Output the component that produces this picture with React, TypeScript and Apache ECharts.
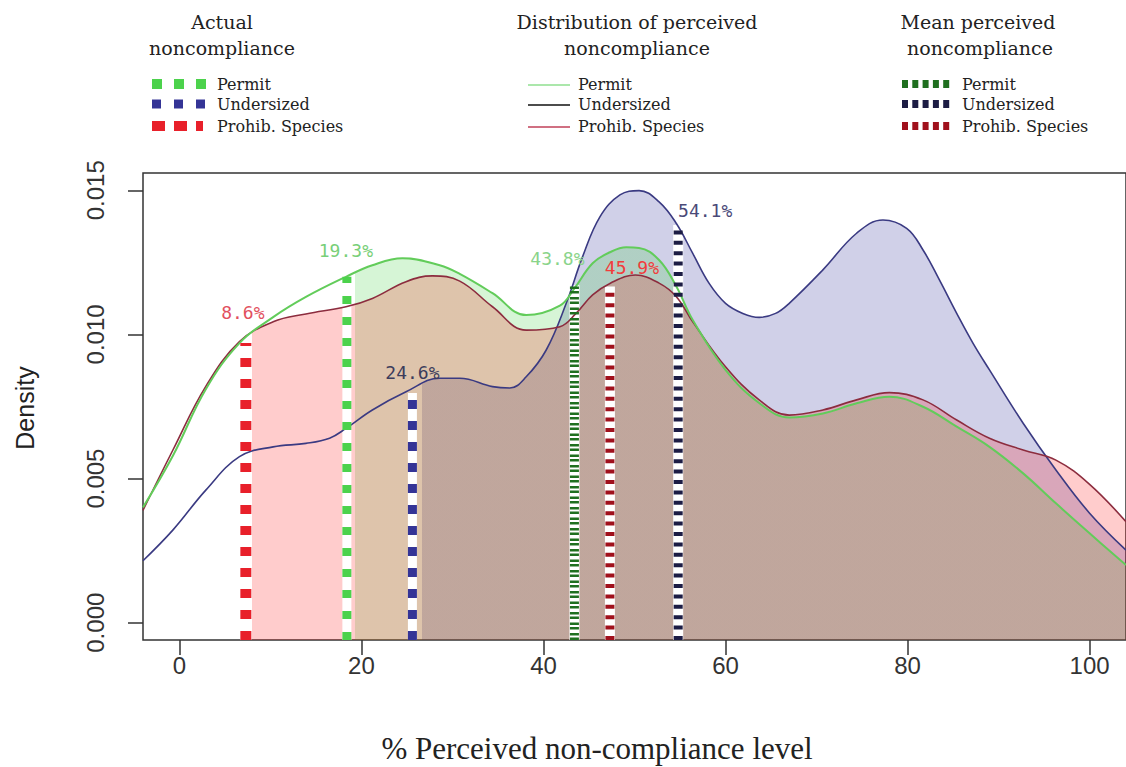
import React, { useEffect, useRef } from "react";
import * as echarts from "echarts";

// ---------- data ----------
const seriesNames = ["Permit", "Undersized", "Prohib. Species"];

const permitCurve: [number, number][] = [
  [-4, 0.004], [-0.7, 0.0058], [2.9, 0.0081], [6.6, 0.0097], [10.3, 0.0106], [13.9, 0.0113],
  [18.3, 0.012], [21.2, 0.0124], [24.5, 0.01264], [28.6, 0.0124], [30.8, 0.0121], [34.4, 0.01143],
  [38.1, 0.01067], [41.8, 0.011], [43.4, 0.0116], [45.4, 0.01247], [47.3, 0.01285], [49.1, 0.01302],
  [50.5, 0.013], [52.7, 0.01258], [54.6, 0.01166], [56.4, 0.0105], [60, 0.00877], [63.7, 0.00762],
  [67, 0.00712], [70.7, 0.00726], [74.4, 0.00761], [78, 0.00784], [81.7, 0.00749], [85.4, 0.0068],
  [89, 0.0061], [92.7, 0.00518], [96.3, 0.00414], [100, 0.0031], [104, 0.002],
];

const undersizedCurve: [number, number][] = [
  [-4, 0.00215], [-0.7, 0.00322], [2.9, 0.0046], [6.6, 0.00576], [10.3, 0.0061], [13.9, 0.00622],
  [16.5, 0.0064], [18.3, 0.00674], [21.2, 0.00738], [24.9, 0.00801], [28.6, 0.00848], [30.8, 0.00848],
  [34.4, 0.00819], [36.3, 0.00814], [38.1, 0.00853], [40.3, 0.00946], [42.5, 0.01108], [44.3, 0.0127],
  [46.2, 0.01408], [48.4, 0.01484], [50.5, 0.01499], [52.7, 0.0146], [54.6, 0.01385], [56.4, 0.01281],
  [58.2, 0.01177], [60, 0.01108], [61.9, 0.01073], [63.7, 0.01059], [65.5, 0.01073], [67, 0.01108],
  [70.7, 0.01224], [74.4, 0.01351], [77.3, 0.01397], [79.9, 0.01368], [81.7, 0.01293], [83.5, 0.01189],
  [85.4, 0.01073], [87.2, 0.00969], [89, 0.00877], [92.7, 0.00692], [96.3, 0.0053], [100, 0.0038],
  [104, 0.00252],
];

const prohibCurve: [number, number][] = [
  [-4, 0.0039], [-0.7, 0.006], [2.9, 0.0082], [6.6, 0.00975], [10.3, 0.01044], [13.9, 0.01071],
  [18.3, 0.01096], [21.2, 0.01125], [24.9, 0.01183], [27.8, 0.01203], [30.8, 0.01185], [34.4, 0.01096],
  [38.1, 0.01015], [41.8, 0.01027], [43.6, 0.01074], [45.4, 0.01137], [47.3, 0.01177], [50.1, 0.01206],
  [52.7, 0.01178], [54.6, 0.01131], [56.4, 0.01044], [60, 0.00888], [63.7, 0.00773], [67, 0.0072],
  [70.7, 0.00738], [74.4, 0.00773], [78, 0.00798], [81.7, 0.00773], [85.4, 0.00703], [89, 0.0064],
  [92.7, 0.00599], [96.3, 0.00564], [100, 0.0048], [104, 0.0035],
];

// actual noncompliance (Permit, Undersized, Prohib. Species)
const actualX = [18.4, 25.6, 7.3];
const actualTop = [0.012, 0.00797, 0.0097];
const actualLabels = ["19.3%", "24.6%", "8.6%"];
const fillStartX = [19.3, 26.6, 8.0];

// mean perceived noncompliance
const meanX = [43.4, 54.8, 47.3];
const meanTop = [0.01171, 0.0138, 0.01166];
const meanLabels = ["43.8%", "54.1%", "45.9%"];

const xTicks = [0, 20, 40, 60, 80, 100];
const yTicks = [0, 0.005, 0.01, 0.015];

// ---------- styling ----------
const X_MIN = -4;
const X_MAX = 104;
const Y_MIN = -0.0006;
const Y_MAX = 0.0156;

const curveColors = ["#62cc5a", "#3a3a82", "#8c2c3e"];
const fillColors = ["rgba(50,205,50,0.2)", "rgba(20,20,140,0.2)", "rgba(255,0,0,0.2)"];
const actualColors = ["#4cd24c", "#343496", "#e8202a"];
const actualWidths = [9, 9, 11];
const actualDash = [[8, 13], [9, 12], [9, 12]];
const actualLabelColors = ["#78cf78", "#3c3c5c", "#e2505e"];
const actualLabelOffsets = [[-1, -26], [0, -20], [-3, -31]];
const meanColors = ["#1f6f1f", "#1c1c44", "#a0101c"];
const meanDash = [[2.5, 2, 2.5, 3.5], [4, 6.4], [4, 6.4]];
const meanLabelColors = ["#8ad48a", "#4a4a78", "#f23c3c"];
const meanLabelOffsets = [[-17, -27], [27, -14], [22, -19]];

const curves = [permitCurve, undersizedCurve, prohibCurve];
const areaOrder = [1, 0, 2];

const serif = '"DejaVu Serif", serif';
const labelFont = '"DejaVu Sans Mono", monospace';

function vLine(x: number, top: number, label: string, lcolor: string, offset: number[], color: string, width: number, dash: number[]) {
  return {
    type: "line",
    data: [
      { value: [x, Y_MIN] },
      {
        value: [x, top],
        label: {
          show: true,
          position: "inside",
          formatter: label,
          offset,
          color: lcolor,
          fontFamily: labelFont,
          fontSize: 18,
        },
      },
    ],
    symbol: "circle",
    symbolSize: 0,
    showSymbol: true,
    lineStyle: { color, width, type: dash },
    z: 4,
    silent: true,
  };
}

function buildOption(): any {
  const series: any[] = [];

  // filled areas (start at actual value)
  areaOrder.forEach((k) => {
    series.push({
      type: "line",
      name: seriesNames[k] + " area",
      data: curves[k],
      smooth: 0.4,
      symbol: "none",
      lineStyle: { width: 0 },
      areaStyle: { opacity: 1, origin: "start" },
      z: 1,
      silent: true,
    });
  });

  const visualMap = areaOrder.map((k, i) => ({
    type: "piecewise",
    show: false,
    seriesIndex: i,
    dimension: 0,
    pieces: [
      { lt: fillStartX[k], color: "rgba(255,255,255,0)" },
      { gte: fillStartX[k], lt: 500, color: fillColors[k] },
      { gte: 500, color: fillColors[k] },
    ],
  }));

  // white backing under vertical lines
  [0, 1, 2].forEach((k) => {
    series.push({
      type: "line",
      data: [[actualX[k], Y_MIN], [actualX[k], actualTop[k]]],
      symbol: "none",
      lineStyle: { color: "#ffffff", width: actualWidths[k] },
      z: 2,
      silent: true,
    });
    series.push({
      type: "line",
      data: [[meanX[k], Y_MIN], [meanX[k], meanTop[k]]],
      symbol: "none",
      lineStyle: { color: "#ffffff", width: 10 },
      z: 2,
      silent: true,
    });
  });

  // density curves
  [1, 2, 0].forEach((k) => {
    series.push({
      type: "line",
      name: seriesNames[k],
      data: curves[k],
      smooth: 0.4,
      symbol: "none",
      lineStyle: { color: curveColors[k], width: k === 0 ? 2 : 1.6 },
      z: 3,
      silent: true,
    });
  });

  [0, 1, 2].forEach((k) => {
    series.push(
      vLine(actualX[k], actualTop[k], actualLabels[k], actualLabelColors[k], actualLabelOffsets[k],
        actualColors[k], actualWidths[k], actualDash[k])
    );
  });
  [0, 1, 2].forEach((k) => {
    series.push(
      vLine(meanX[k], meanTop[k], meanLabels[k], meanLabelColors[k], meanLabelOffsets[k],
        meanColors[k], 9, meanDash[k])
    );
  });

  // ---------- legends (graphic) ----------
  const textEl = (text: string, x: number, y: number, size: number, align = "center", family = serif) => ({
    type: "text",
    x,
    y,
    silent: true,
    style: {
      text,
      fill: "#222",
      font: `${size}px ${family}`,
      align,
      verticalAlign: "middle",
      textAlign: align,
      textVerticalAlign: "middle",
    },
  });

  const itemY = [84, 104, 126];
  const graphic: any[] = [];

  // legend 1: actual
  graphic.push(textEl("Actual", 222, 22, 19));
  graphic.push(textEl("noncompliance", 222, 48, 19));
  const sqW = [[10, 10, 10], [9, 9, 9], [13, 13, 7]];
  const sqX = [152, 174, 196];
  [0, 1, 2].forEach((k) => {
    sqX.forEach((sx, j) => {
      const h = k === 1 ? 9 : 10;
      graphic.push({
        type: "rect",
        silent: true,
        shape: { x: sx, y: itemY[k] - h / 2, width: sqW[k][j], height: h },
        style: { fill: actualColors[k] },
      });
    });
    graphic.push(textEl(seriesNames[k], 217, itemY[k], 16, "left"));
  });

  // legend 2: distribution
  graphic.push(textEl("Distribution of perceived", 637, 22, 19));
  graphic.push(textEl("noncompliance", 637, 48, 19));
  const legLineColors = ["#8fdf8f", "#111111", "#c04058"];
  [0, 1, 2].forEach((k) => {
    graphic.push({
      type: "line",
      silent: true,
      shape: { x1: 528, y1: itemY[k] + 1, x2: 570, y2: itemY[k] + 1 },
      style: { stroke: legLineColors[k], lineWidth: 1.3 },
    });
    graphic.push(textEl(seriesNames[k], 578, itemY[k], 16, "left"));
  });

  // legend 3: mean
  graphic.push(textEl("Mean perceived", 978, 22, 19));
  graphic.push(textEl("noncompliance", 980, 48, 19));
  [0, 1, 2].forEach((k) => {
    graphic.push({
      type: "line",
      silent: true,
      shape: { x1: 902, y1: itemY[k], x2: 953, y2: itemY[k] },
      style: { stroke: meanColors[k], lineWidth: 8, lineDash: [6, 4.3] },
    });
    graphic.push(textEl(seriesNames[k], 962, itemY[k], 16, "left"));
  });

  // axis titles
  graphic.push({
    type: "text",
    x: 25,
    y: 408,
    rotation: Math.PI / 2,
    silent: true,
    style: {
      text: "Density",
      fill: "#222",
      font: '25px "Liberation Sans", Arial, sans-serif',
      align: "center",
      verticalAlign: "middle",
      textAlign: "center",
      textVerticalAlign: "middle",
    },
  });
  graphic.push({
    type: "text",
    x: 597,
    y: 748,
    silent: true,
    style: {
      text: "% Perceived non-compliance level",
      fill: "#222",
      font: '31px "Liberation Serif", "Times New Roman", serif',
      align: "center",
      verticalAlign: "middle",
      textAlign: "center",
      textVerticalAlign: "middle",
    },
  });

  return {
    animation: false,
    backgroundColor: "#ffffff",
    grid: {
      left: 143,
      right: 0,
      top: 173,
      bottom: 127,
      show: true,
      borderColor: "#333333",
      borderWidth: 1.5,
      backgroundColor: "transparent",
    },
    xAxis: {
      type: "value",
      min: X_MIN,
      max: X_MAX,
      axisLine: { show: false, onZero: false },
      splitLine: { show: false },
      axisTick: { show: true, customValues: xTicks, length: 15, lineStyle: { color: "#333", width: 1.5 } },
      axisLabel: {
        customValues: xTicks,
        fontSize: 24,
        fontFamily: '"Liberation Sans", Arial, sans-serif',
        color: "#333",
        margin: 13,
      },
    },
    yAxis: {
      type: "value",
      min: Y_MIN,
      max: Y_MAX,
      axisLine: { show: false, onZero: false },
      splitLine: { show: false },
      axisTick: { show: true, customValues: yTicks, length: 15, lineStyle: { color: "#333", width: 1.5 } },
      axisLabel: {
        customValues: yTicks,
        rotate: 90,
        fontSize: 24,
        fontFamily: '"Liberation Sans", Arial, sans-serif',
        color: "#333",
        margin: 36,
        formatter: (v: number) => v.toFixed(3),
      },
    },
    visualMap,
    series,
    graphic,
  };
}

export default function App() {
  const ref = useRef<HTMLDivElement>(null);
  useEffect(() => {
    if (!ref.current) return;
    const chart = echarts.init(ref.current, undefined, { renderer: "svg" });
    chart.setOption(buildOption());
    return () => chart.dispose();
  }, []);
  return (
    <div
      ref={ref}
      style={{ position: "fixed", left: 0, top: 0, width: 1126, height: 767, background: "#fff" }}
    />
  );
}
